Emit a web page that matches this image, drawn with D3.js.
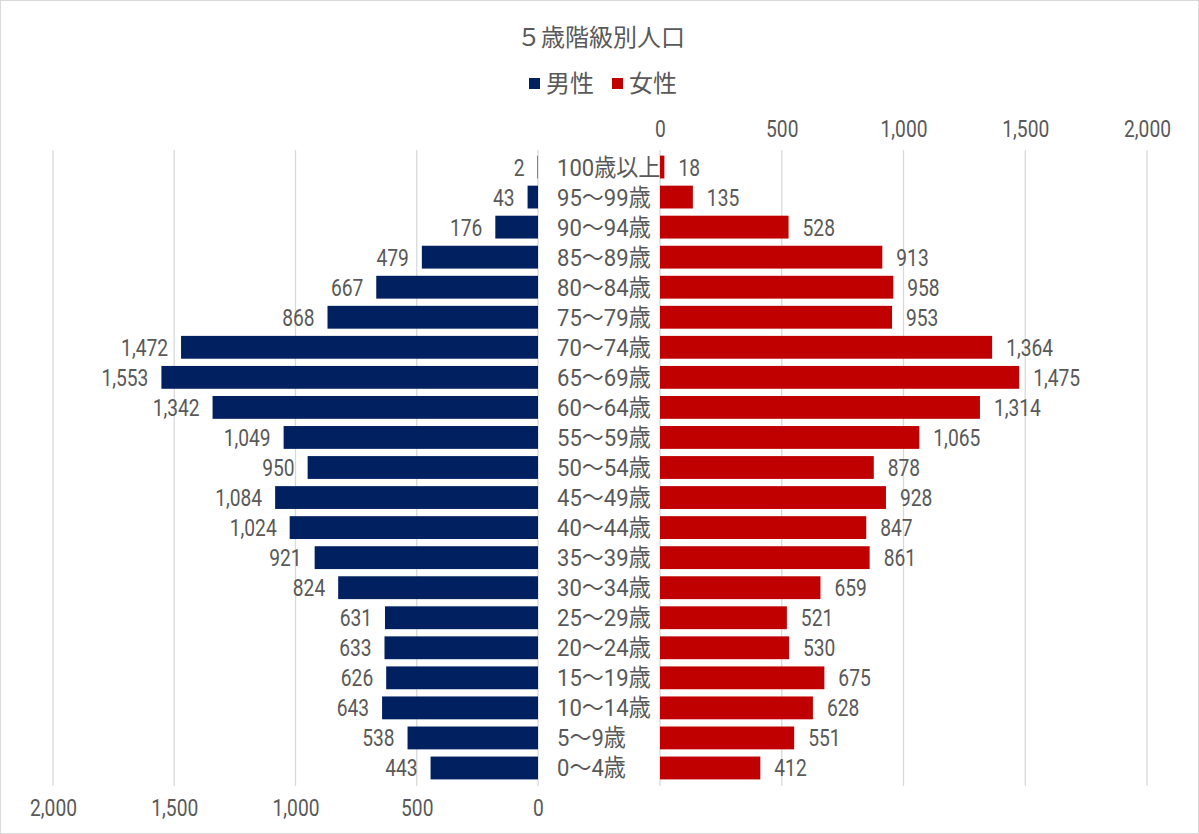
<!DOCTYPE html>
<html><head><meta charset="utf-8">
<script src="https://cdn.jsdelivr.net/npm/d3@7"></script>
<style>
html,body{margin:0;padding:0;background:#fff;}
svg text{font-family:"Noto Sans CJK JP","Noto Sans",sans-serif;fill:#595959;}
svg text.num{font-family:Roboto,"Noto Sans CJK JP",sans-serif;}
</style></head><body>
<svg id="c" width="1199" height="834"></svg>
<script>
const categories = ["100歳以上","95～99歳","90～94歳","85～89歳","80～84歳","75～79歳","70～74歳","65～69歳","60～64歳","55～59歳","50～54歳","45～49歳","40～44歳","35～39歳","30～34歳","25～29歳","20～24歳","15～19歳","10～14歳","5～9歳","0～4歳"];
const male   = [2,43,176,479,667,868,1472,1553,1342,1049,950,1084,1024,921,824,631,633,626,643,538,443];
const female = [18,135,528,913,958,953,1364,1475,1314,1065,878,928,847,861,659,521,530,675,628,551,412];
const tickValues = [0,500,1000,1500,2000];
const seriesNames = ["男性","女性"];
const colors = ["#002060","#C00000"];
const title = "５歳階級別人口";

const svg = d3.select("#c");
const fmt = d3.format(",");
const W = 1199, H = 834;

svg.append("rect").attr("x",0.5).attr("y",0.5).attr("width",W-1).attr("height",H-1)
  .attr("fill","#fff").attr("stroke","#d9d9d9");

const xL = d3.scaleLinear().domain([0,2000]).range([538,53]);
const xR = d3.scaleLinear().domain([0,2000]).range([660,1147]);
const y = d3.scaleBand().domain(categories).range([152,783]).paddingInner(0.24).paddingOuter(0.12);

const gridTop = 150, gridBot = 786;
svg.append("g").selectAll("line").data(tickValues).join("line")
  .attr("x1",d=>xL(d)).attr("x2",d=>xL(d)).attr("y1",gridTop).attr("y2",gridBot)
  .attr("stroke","#d9d9d9").attr("stroke-width",1.3);
svg.append("g").selectAll("line").data(tickValues).join("line")
  .attr("x1",d=>xR(d)).attr("x2",d=>xR(d)).attr("y1",gridTop).attr("y2",gridBot)
  .attr("stroke","#d9d9d9").attr("stroke-width",1.3);

function sText(g, x, yy, txt, anchor, sx, size, cls){
  return g.append("text").attr("class",cls).attr("transform",`translate(${x},${yy}) scale(${sx},1)`)
    .attr("text-anchor",anchor).attr("font-size",size).text(txt);
}

const axTop = d3.axisTop(xR).tickValues(tickValues).tickSize(0).tickFormat(fmt);
const gT = svg.append("g").attr("transform","translate(0,137)").call(axTop);
const axBot = d3.axisBottom(xL).tickValues(tickValues).tickSize(0).tickFormat(fmt);
const gB = svg.append("g").attr("transform","translate(0,798)").call(axBot);
[gT,gB].forEach((g,i)=>{
  g.select(".domain").remove();
  g.selectAll("text").attr("class","num").attr("font-size",24).attr("font-family",null).attr("fill","#595959")
   .attr("dy",null).attr("y", i===0?0:18)
   .attr("transform","scale(0.8,1)");
});

const bh = y.bandwidth();
svg.append("g").selectAll("rect").data(categories).join("rect")
  .attr("x",(d,i)=>xL(male[i])).attr("width",(d,i)=>xL(0)-xL(male[i]))
  .attr("y",d=>y(d)).attr("height",bh).attr("fill",colors[0]);
svg.append("g").selectAll("rect").data(categories).join("rect")
  .attr("x",xR(0)).attr("width",(d,i)=>xR(female[i])-xR(0))
  .attr("y",d=>y(d)).attr("height",bh).attr("fill",colors[1]);

const gl = svg.append("g");
categories.forEach((c,i)=>{
  const cy = y(c)+bh/2 + 8.5;
  sText(gl, xL(male[i])-13, cy, fmt(male[i]), "end", 0.8, 24, "num");
  sText(gl, xR(female[i])+14, cy, fmt(female[i]), "start", 0.8, 24, "num");
  sText(gl, 557, cy, c, "start", 0.92, 24, "num");
});

svg.append("text").attr("x",601).attr("y",46).attr("text-anchor","middle")
  .attr("font-size",24).text(title);

const lg = svg.append("g");
const lx = [529, 612];
seriesNames.forEach((s,i)=>{
  lg.append("rect").attr("x",lx[i]).attr("y",78).attr("width",11).attr("height",11).attr("fill",colors[i]);
  lg.append("text").attr("x",lx[i]+17).attr("y",92).attr("font-size",24).text(s);
});
</script></body></html>
